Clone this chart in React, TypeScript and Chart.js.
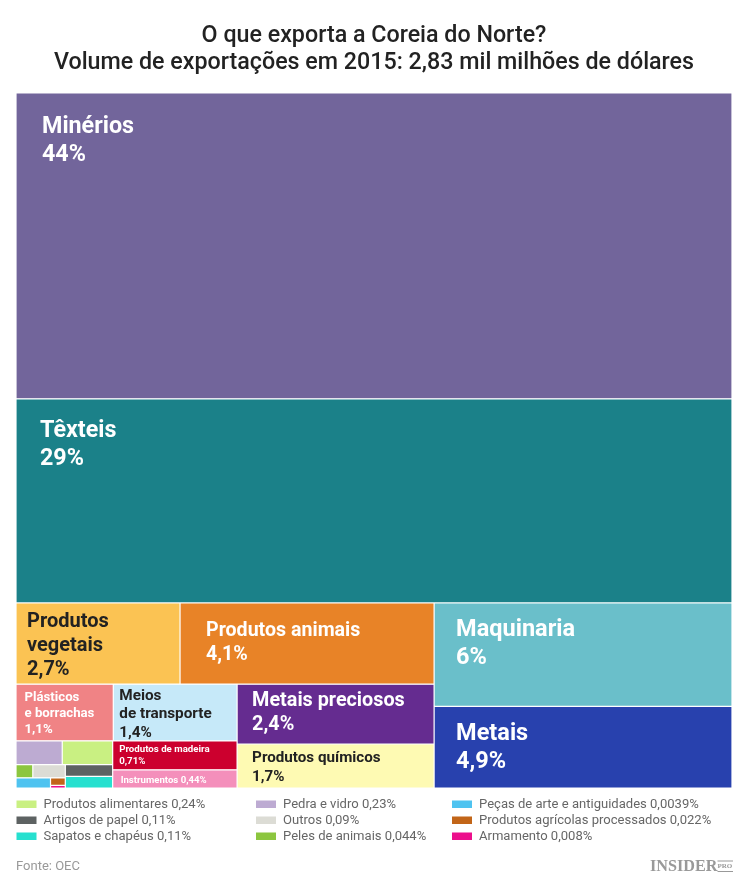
import { useEffect, useRef } from "react";
import { Chart, DatasetController, registerables } from "chart.js";

const titleLines = [
  "O que exporta a Coreia do Norte?",
  "Volume de exportações em 2015: 2,83 mil milhões de dólares",
];

const categories = [
  "Minérios", "Têxteis", "Produtos vegetais", "Produtos animais", "Maquinaria", "Metais",
  "Plásticos e borrachas", "Meios de transporte", "Metais preciosos", "Produtos químicos",
  "Produtos de madeira", "Instrumentos", "Produtos alimentares", "Pedra e vidro",
  "Artigos de papel", "Outros", "Sapatos e chapéus", "Peles de animais",
  "Peças de arte e antiguidades", "Produtos agrícolas processados", "Armamento",
];

// cell sizes (tile areas), printed shares are below
const values = [
  43.7, 29.15, 2.66, 4.12, 6.15, 4.85, 1.1, 1.4, 2.35, 1.73, 0.72, 0.45,
  0.24, 0.22, 0.11, 0.085, 0.11, 0.044, 0.07, 0.022, 0.008,
];

const shares = [
  "44%", "29%", "2,7%", "4,1%", "6%", "4,9%", "1,1%", "1,4%", "2,4%", "1,7%", "0,71%", "0,44%",
  "0,24%", "0,23%", "0,11%", "0,09%", "0,11%", "0,044%", "0,0039%", "0,022%", "0,008%",
];

const colors = [
  "#72659b", "#1b8189", "#fbc353", "#e88327", "#6abfca", "#2841ae", "#f08385", "#c6e9f9",
  "#652c90", "#fefab3", "#cc002e", "#f48fbb", "#c9f082", "#bdabd2", "#5d6262", "#dcdcd5",
  "#26e0cf", "#8cc63f", "#4fc3f0", "#c26518", "#ec0f8c",
];

// how the tiles nest: "v" stacks children, "h" puts them side by side, numbers index categories
type Node = number | ["v" | "h", ...Node[]];
const smallTiles: Node = ["v", ["h", 13, 12], ["h", ["v", ["h", 17, 15], ["h", 18, ["v", 19, 20]]], ["v", 14, 16]]];
const tileTree: Node = ["v", 0, 1, ["h",
  ["v", ["h", 2, 3], ["h", ["v", ["h", 6, 7], ["h", smallTiles, ["v", 10, 11]]], ["v", 8, 9]]],
  ["v", 4, 5],
]];

const dark = "#222222";
const cellLabels = [
  { cell: 0, lines: ["Minérios", "44%"], dx: 26, dy: 34, size: 23.3, lh: 28, color: "#fff" },
  { cell: 1, lines: ["Têxteis", "29%"], dx: 24, dy: 32.5, size: 23.3, lh: 28, color: "#fff" },
  { cell: 2, lines: ["Produtos", "vegetais", "2,7%"], dx: 11, dy: 19, size: 20, lh: 24, color: dark },
  { cell: 3, lines: ["Produtos animais", "4,1%"], dx: 26, dy: 28, size: 19.6, lh: 24, color: "#fff" },
  { cell: 4, lines: ["Maquinaria", "6%"], dx: 22, dy: 27.5, size: 23.5, lh: 28, color: "#fff" },
  { cell: 5, lines: ["Metais", "4,9%"], dx: 22, dy: 28, size: 23.5, lh: 28, color: "#fff" },
  { cell: 6, lines: ["Plásticos", "e borrachas", "1,1%"], dx: 8.5, dy: 13.5, size: 13.2, lh: 16, color: "#fff" },
  { cell: 7, lines: ["Meios", "de transporte", "1,4%"], dx: 6, dy: 11.5, size: 15.3, lh: 18.5, color: dark },
  { cell: 8, lines: ["Metais preciosos", "2,4%"], dx: 15, dy: 17, size: 19.8, lh: 24, color: "#fff" },
  { cell: 9, lines: ["Produtos químicos", "1,7%"], dx: 15, dy: 14.5, size: 15.2, lh: 18.5, color: dark },
  { cell: 10, lines: ["Produtos de madeira", "0,71%"], dx: 6.5, dy: 9, size: 9.7, lh: 12, color: "#fff" },
  { cell: 11, lines: ["Instrumentos 0,44%"], dx: 8, dy: 10.5, size: 9.6, lh: 12, color: "#fff" },
];

// legend columns, top to bottom
const legendColumns = [
  [12, 14, 16],
  [13, 15, 17],
  [18, 19, 20],
];

const sourceNote = "Fonte: OEC";

function weight(node: Node): number {
  if (typeof node === "number") return values[node];
  return node.slice(1).reduce((sum: number, child: any) => sum + weight(child), 0);
}

// walks the tree and hands back each tile's bounds in axis units (0..100 both ways)
function layoutTiles(node: Node, x0: number, x1: number, y0: number, y1: number, out: any[]) {
  if (typeof node === "number") {
    out[node] = { x0, x1, y0, y1 };
    return out;
  }
  const [dir, ...children] = node;
  const total = weight(node);
  let at = dir === "v" ? y0 : x0;
  children.forEach((child) => {
    const span = (weight(child) / total) * (dir === "v" ? y1 - y0 : x1 - x0);
    if (dir === "v") layoutTiles(child, x0, x1, at, at + span, out);
    else layoutTiles(child, at, at + span, y0, y1, out);
    at += span;
  });
  return out;
}

class TreemapController extends DatasetController {
  static id = "treemap";
  static defaults = { dataElementType: "bar", datasetElementType: false };

  update(mode: any) {
    const meta = this.getMeta();
    this.updateElements(meta.data, 0, meta.data.length, mode);
  }

  updateElements(rects: any[], start: number, count: number, mode: any) {
    const { xScale, yScale } = this.getMeta() as any;
    const tiles = layoutTiles(tileTree, 0, 100, 0, 100, []);
    for (let i = start; i < start + count; i++) {
      const left = xScale.getPixelForValue(tiles[i].x0);
      const right = xScale.getPixelForValue(tiles[i].x1);
      const top = yScale.getPixelForValue(tiles[i].y0);
      const bottom = yScale.getPixelForValue(tiles[i].y1);
      this.updateElement(rects[i], i, {
        x: (left + right) / 2,
        y: top,
        base: bottom,
        width: right - left,
        height: bottom - top,
        horizontal: false,
        borderSkipped: {},
        inflateAmount: 0,
        options: this.resolveDataElementOptions(i, mode),
      }, mode);
    }
  }
}

Chart.register(...registerables, TreemapController as any);

const labelPlugin = {
  id: "tileLabels",
  afterDatasetsDraw(chart: any) {
    const ctx = chart.ctx;
    const rects = chart.getDatasetMeta(0).data;
    ctx.save();
    ctx.textBaseline = "middle";
    ctx.textAlign = "left";
    cellLabels.forEach((label) => {
      const rect = rects[label.cell];
      const left = rect.x - rect.width / 2;
      ctx.font = `700 ${label.size}px Roboto`;
      ctx.fillStyle = label.color;
      label.lines.forEach((line, i) => {
        ctx.fillText(line, left + label.dx, rect.y + label.dy + i * label.lh);
      });
    });
    ctx.restore();
  },
  afterDraw(chart: any) {
    const ctx = chart.ctx;
    ctx.save();
    ctx.textBaseline = "middle";
    ctx.textAlign = "left";
    ctx.font = "400 13.05px Roboto";
    const columnX = [16.5, 256, 452];
    legendColumns.forEach((column, c) => {
      column.forEach((cell, r) => {
        const y = 804 + r * 16;
        ctx.fillStyle = colors[cell];
        ctx.fillRect(columnX[c], y - 3.5, 20, 7.5);
        ctx.fillStyle = "#666666";
        ctx.fillText(`${categories[cell]} ${shares[cell]}`, columnX[c] + 27, y + 1);
      });
    });

    ctx.fillStyle = "#999999";
    ctx.font = "400 13px Roboto";
    ctx.fillText(sourceNote, 16, 867);

    ctx.font = "700 16.2px 'Liberation Serif'";
    ctx.fillText("INSIDER", 650, 867);
    ctx.font = "700 7px 'Liberation Serif'";
    ctx.fillText("PRO", 717.5, 866.5);
    ctx.fillRect(717.5, 860.5, 15.5, 1);
    ctx.fillRect(717.5, 871, 15.5, 1);
    ctx.restore();
  },
};

export default function App() {
  const chartRef = useRef<HTMLCanvasElement | null>(null);

  useEffect(() => {
    const canvas = chartRef.current;
    if (!canvas) return;
    document.body.style.margin = "0";

    const chart = new Chart(canvas, {
      type: "treemap" as any,
      data: {
        labels: categories,
        datasets: [
          {
            data: values,
            backgroundColor: colors,
            borderColor: "rgba(255, 255, 255, 0.85)",
            borderWidth: 0.6,
          } as any,
        ],
      },
      options: {
        animation: false,
        responsive: false,
        devicePixelRatio: 1,
        events: [],
        parsing: false,
        layout: { padding: { left: 16, right: 18, top: 0, bottom: 97 } },
        plugins: {
          legend: { display: false },
          tooltip: { enabled: false },
          title: {
            display: true,
            text: titleLines,
            color: "#222222",
            font: { family: "Roboto", size: 23.25, weight: "500", lineHeight: 1.16 },
            padding: { top: 23, bottom: 16 },
          },
        },
        scales: {
          x: { type: "linear", display: false, min: 0, max: 100 },
          y: { type: "linear", display: false, reverse: true, min: 0, max: 100 },
        },
      } as any,
      plugins: [labelPlugin],
    });

    return () => {
      chart.destroy();
    };
  }, []);

  return <canvas ref={chartRef} width={750} height={885} style={{ display: "block" }} />;
}
